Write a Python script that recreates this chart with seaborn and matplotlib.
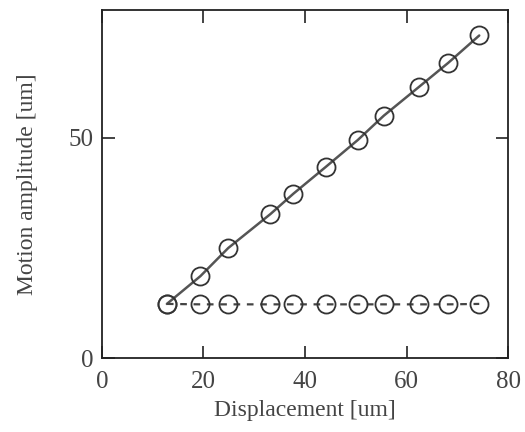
import matplotlib
matplotlib.use("Agg")
import matplotlib.pyplot as plt
import seaborn as sns
import pandas as pd

displacement = [12.8, 19.4, 24.9, 33.2, 37.7, 44.1, 50.4, 55.5, 62.5, 68.2, 74.3]
amp_upper = [12.3, 18.6, 25.0, 32.7, 37.3, 43.4, 49.5, 55.0, 61.6, 67.0, 73.2]
amp_lower = [12.3, 12.2, 12.2, 12.2, 12.2, 12.2, 12.2, 12.2, 12.2, 12.2, 12.3]
x_ticks = [0, 20, 40, 60, 80]
y_ticks = [0, 50]

sns.set_theme(style="ticks")
plt.rcParams['font.family'] = ['Liberation Serif', 'DejaVu Serif']

df_u = pd.DataFrame({"x": displacement, "y": amp_upper})
df_l = pd.DataFrame({"x": displacement, "y": amp_lower})

fig = plt.figure(figsize=(5.25, 4.32), dpi=100)
ax = fig.add_axes([0.194, 0.171, 0.774, 0.806])

sns.lineplot(data=df_u, x="x", y="y", ax=ax, color="#555555", lw=1.8, marker="o",
             markersize=13, markerfacecolor="none", markeredgecolor="#333333",
             markeredgewidth=1.3)
sns.lineplot(data=df_l, x="x", y="y", ax=ax, color="#444444", lw=1.6, linestyle=(0, (3, 3)),
             marker="o", markersize=13, markerfacecolor="none",
             markeredgecolor="#333333", markeredgewidth=1.3)

ax.set_xlim(0, 80)
ax.set_ylim(0, 79)
ax.set_xticks(x_ticks)
ax.set_yticks(y_ticks)
ax.tick_params(direction="in", length=9, width=1.2, labelsize=18, labelcolor="#444444",
               colors="#222222", top=True, right=True)
ax.tick_params(axis="x", pad=9)
ax.tick_params(axis="y", pad=6)
for s in ax.spines.values():
    s.set_linewidth(1.3)
    s.set_color("#222222")
ax.set_xlabel("Displacement [um]", fontsize=17, color="#444444", labelpad=5)
ax.set_ylabel("Motion amplitude [um]", fontsize=17, color="#444444", labelpad=22)

fig.savefig("out.png", dpi=100)
